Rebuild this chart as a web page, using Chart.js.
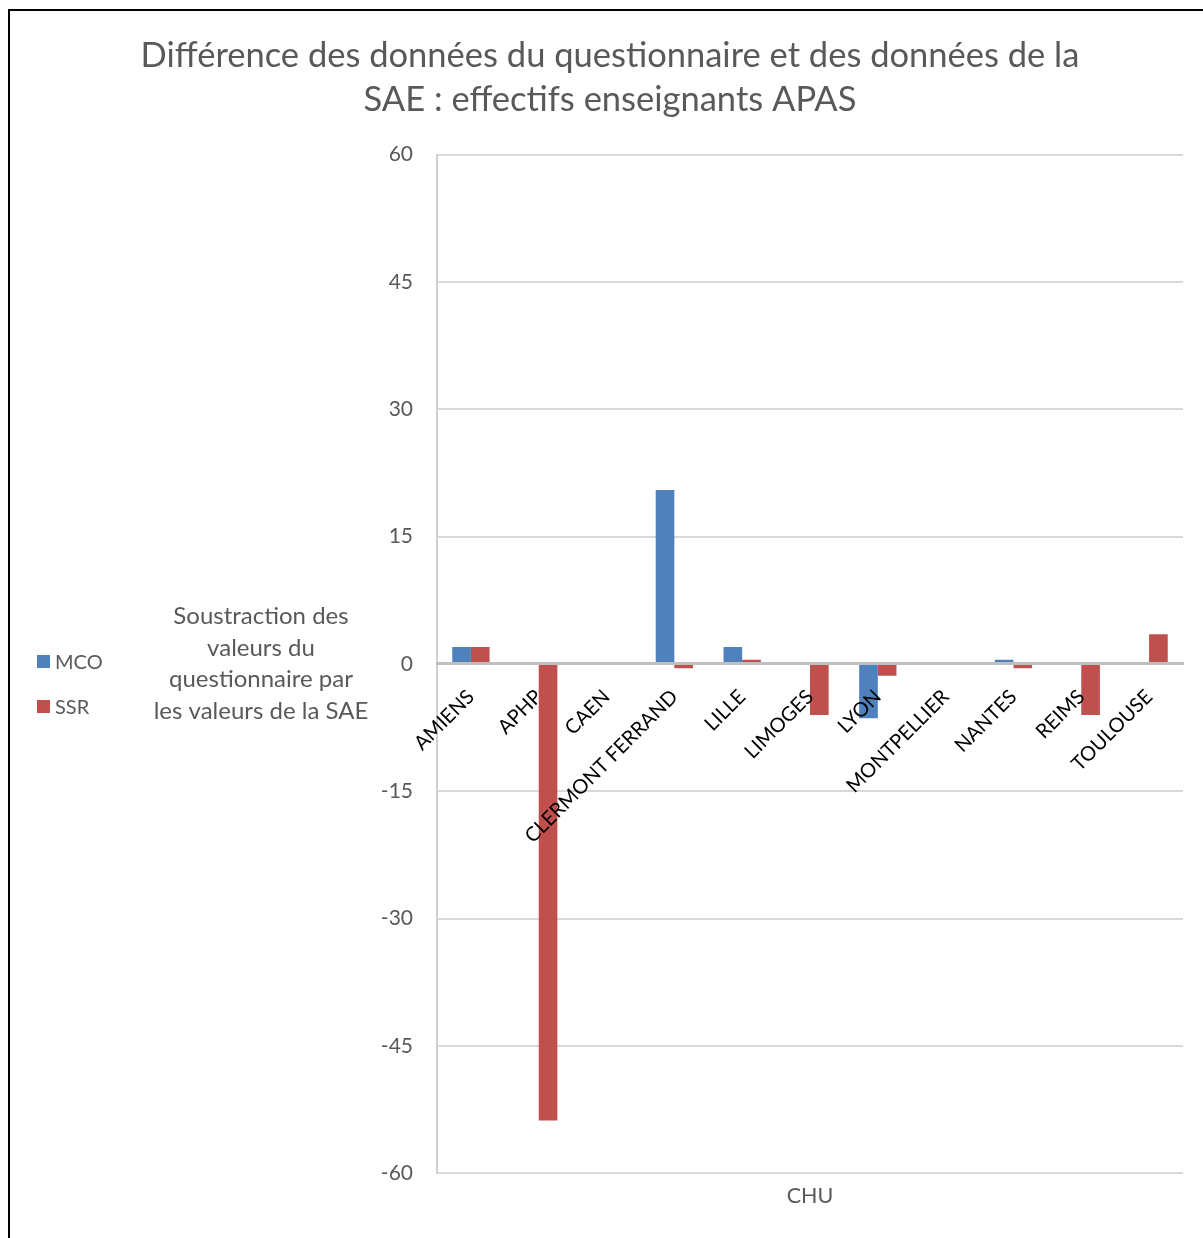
<!DOCTYPE html>
<html lang="fr">
<head>
  <meta charset="UTF-8">
  <title>Différence des données du questionnaire et des données de la SAE</title>
  <script src="https://cdn.jsdelivr.net/npm/chart.js"></script>
  <style>
    html, body { margin: 0; padding: 0; background: #fff; }
    .frame { position: absolute; left: 8px; top: 9px; width: 1300px; height: 1300px;
             border-left: 2px solid #000; border-top: 2px solid #000; }
    .wrap { position: absolute; left: 0; top: 0; width: 1203px; height: 1238px; }
  </style>
</head>
<body>
  <div class="frame"></div>
  <div class="wrap"><canvas id="chart0"></canvas></div>

  <script>
    /* Values (questionnaire minus SAE). */
    const categories = ["AMIENS", "APHP", "CAEN", "CLERMONT FERRAND", "LILLE", "LIMOGES",
      "LYON", "MONTPELLIER", "NANTES", "REIMS", "TOULOUSE"]
    const mco = [2, 0, 0, 20.5, 2, 0, -6.4, 0, 0.5, 0, 0]
    const ssr = [2, -53.8, 0, -0.5, 0.5, -6, -1.4, 0, -0.5, -6, 3.5]
    const seriesNames = ["MCO", "SSR"]
    const seriesColors = ["#4F81BD", "#C0504D"]
    const yMin = -60
    const yMax = 60
    const yStep = 15
    const yTitle = ["Soustraction des", "valeurs du", "questionnaire par", "les valeurs de la SAE"]

    const grey = "#595959"
    const fontFamily = "Lato, 'Open Sans', sans-serif"

    /* Horizontal y title and the legend on the left, drawn on the canvas. */
    const sideText = {
      id: "sideText",
      afterDraw(chart) {
        const ctx = chart.ctx
        const area = chart.chartArea
        const mid = (area.top + area.bottom) / 2
        ctx.save()
        ctx.fillStyle = grey
        ctx.font = "24px " + fontFamily
        ctx.textAlign = "center"
        ctx.textBaseline = "middle"
        const lh = 31.6
        yTitle.forEach((line, i) => {
          ctx.fillText(line, 261, mid + (i - (yTitle.length - 1) / 2) * lh)
        })

        ctx.font = "20px " + fontFamily
        ctx.textAlign = "left"
        chart.data.datasets.forEach((ds, i) => {
          const cy = 662 + i * 45
          ctx.fillStyle = ds.backgroundColor
          ctx.fillRect(37, cy - 7, 13, 13)
          ctx.fillStyle = grey
          ctx.fillText(ds.label, 55, cy + 1)
        })
        ctx.restore()
      }
    }

    const ctx0 = document.getElementById("chart0").getContext("2d")
    const myChart0 = new Chart(ctx0, {
      type: "bar",
      data: {
        labels: categories,
        datasets: [
          { label: seriesNames[0], data: mco, backgroundColor: seriesColors[0] },
          { label: seriesNames[1], data: ssr, backgroundColor: seriesColors[1] },
        ]
      },
      options: {
        responsive: true,
        maintainAspectRatio: false,
        animation: false,
        categoryPercentage: 0.55,
        barPercentage: 1,
        layout: { padding: { left: 37, right: 20, top: 0, bottom: 13 } },
        plugins: {
          legend: { display: false },
          tooltip: { enabled: false },
          title: {
            display: true,
            text: ["Différence des données du questionnaire et des données de la",
              "SAE : effectifs enseignants APAS"],
            color: grey,
            font: { family: fontFamily, size: 34.5, weight: "normal", lineHeight: 1.3 },
            padding: { top: 33, bottom: 32 }
          }
        },
        scales: {
          x: {
            grid: { display: false },
            border: { display: false },
            ticks: { display: false },
            title: {
              display: true,
              text: "CHU",
              color: grey,
              font: { family: fontFamily, size: 21.5 },
              padding: { top: 2, bottom: 16 }
            }
          },
          x2: {
            type: "category",
            labels: categories,
            offset: true,
            position: { y: 0 },
            grid: { display: false },
            border: { display: true, color: "#BFBFBF", width: 3, z: 1 },
            ticks: {
              z: 1,
              color: "#000",
              font: { family: fontFamily, size: 20 },
              minRotation: 45,
              maxRotation: 45,
              autoSkip: false,
              padding: 13
            }
          },
          y: {
            min: yMin,
            max: yMax,
            afterFit(scale) { scale.width = 400 },
            ticks: {
              stepSize: yStep,
              color: grey,
              font: { family: fontFamily, size: 21 },
              padding: 24
            },
            grid: { color: "#D9D9D9", lineWidth: 2, drawTicks: false },
            border: { display: true, color: "#D0D0D0", width: 2 }
          }
        }
      },
      plugins: [sideText]
    })
  </script>
</body>
</html>
